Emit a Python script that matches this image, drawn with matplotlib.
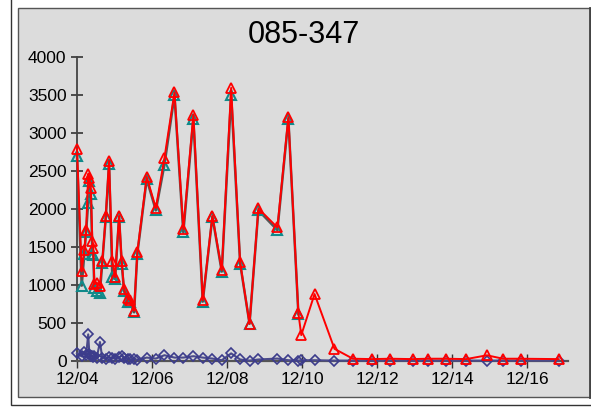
import matplotlib
matplotlib.use("Agg")
import matplotlib.pyplot as plt
import matplotlib.dates as mdates
from matplotlib.patches import Rectangle
from matplotlib.lines import Line2D
import pandas as pd

plt.rcParams['font.family'] = ['Liberation Sans', 'DejaVu Sans']

title = "085-347"

times = [
    "2007-12-04 00:00", "2007-12-04 03:00", "2007-12-04 04:40", "2007-12-04 05:50",
    "2007-12-04 07:10", "2007-12-04 07:55", "2007-12-04 08:50", "2007-12-04 09:50",
    "2007-12-04 10:25", "2007-12-04 11:05", "2007-12-04 12:35", "2007-12-04 14:40",
    "2007-12-04 16:10", "2007-12-04 18:25", "2007-12-04 20:30", "2007-12-04 22:35",
    "2007-12-05 00:20", "2007-12-05 02:55", "2007-12-05 04:35", "2007-12-05 06:05",
    "2007-12-05 08:25", "2007-12-05 09:55", "2007-12-05 12:30", "2007-12-05 14:35",
    "2007-12-05 20:35", "2007-12-06 02:25", "2007-12-06 07:55", "2007-12-06 14:20",
    "2007-12-06 20:00", "2007-12-07 02:25", "2007-12-07 08:25", "2007-12-07 14:35",
    "2007-12-07 20:35", "2007-12-08 02:35", "2007-12-08 08:20", "2007-12-08 14:20",
    "2007-12-08 20:00", "2007-12-09 08:10", "2007-12-09 15:10", "2007-12-09 21:35",
    "2007-12-09 23:25", "2007-12-10 07:55", "2007-12-10 20:40", "2007-12-11 08:25",
    "2007-12-11 20:35", "2007-12-12 08:20", "2007-12-12 22:35", "2007-12-13 08:25",
    "2007-12-13 20:10", "2007-12-14 08:50", "2007-12-14 22:10", "2007-12-15 08:25",
    "2007-12-15 20:00", "2007-12-16 20:00",
]

red_values = [
    2790, 1180, 1460, 1720, 2460, 2410, 2270, 1580, 1490, 1010, 1030, 990,
    1310, 1910, 2630, 1320, 1100, 1910, 1320, 940, 830, 800, 660, 1430,
    2420, 2010, 2670, 3530, 1730, 3240, 800, 1910, 1195, 3590, 1295, 490,
    2005, 1755, 3205, 630, 340, 880, 160, 30, 25, 30, 25, 30,
    30, 25, 75, 30, 30, 25,
]

teal_values = [
    2690, 990, 1400, 1700, 2080, 2370, 2190, 1400, 1390, 960, 920, 900,
    1290, 1890, 2590, 1100, 1080, 1890, 1280, 920, 770, 770, 640, 1410,
    2390, 1980, 2580, 3490, 1690, 3180, 780, 1895, 1175, 3490, 1280, 490,
    1980, 1720, 3180, 615,
]

navy_values = [
    100, 60, 120, 80, 350, 90, 60, 70, 50, 60, 40, 250,
    40, 30, 50, 40, 30, 50, 70, 40, 30, 20, 30, 15,
    45, 32, 76, 45, 45, 63, 45, 32, 10, 100, 20, 5,
    20, 32, 10, 5, 10, 10, 5, 5, 5, 5, 5, 5,
    5, 5, 5, 5, 5, 5,
]

yticks = [0, 500, 1000, 1500, 2000, 2500, 3000, 3500, 4000]
xtick_days = [4, 6, 8, 10, 12, 14, 16]

t = pd.to_datetime(times)

W, H = 591, 409
fig = plt.figure(figsize=(W / 100, H / 100), dpi=100)
fig.patch.set_facecolor('white')

# outer frame
fig.patches.append(Rectangle((11 / W, (H - 405) / H), (W - 11 + 5) / W, 405 / H + 0.01,
                             transform=fig.transFigure, facecolor='white',
                             edgecolor='#333333', lw=1.0, zorder=0))
# inner gray panel
fig.patches.append(Rectangle((18 / W, (H - 397) / H), (590 - 18) / W, (397 - 8) / H,
                             transform=fig.transFigure, facecolor='#dcdcdc',
                             edgecolor='#555555', lw=1.0, zorder=1))
fig.lines.append(Line2D([590 / W, 590 / W], [(H - 397) / H, (H - 8) / H],
                        transform=fig.transFigure, color='#444444', lw=2.0, zorder=2))

ax = fig.add_axes([77 / W, (H - 361) / H, (568 - 77) / W, (361 - 56.7) / H])
ax.set_zorder(5)
ax.set_facecolor('none')

ax.plot(t, navy_values, color='#4a4a8a', lw=1.5, marker='D', markersize=5.5,
        markerfacecolor='none', markeredgecolor='#3c3c8c', markeredgewidth=1.2, zorder=3,
        clip_on=False)
ax.plot(t[:len(teal_values)], teal_values, color='#555555', lw=1.8, marker='^', markersize=7,
        markerfacecolor='none', markeredgecolor='#108a8a', markeredgewidth=1.5, zorder=4,
        clip_on=False)
ax.plot(t, red_values, color='#ff0000', lw=1.4, marker='^', markersize=7,
        markerfacecolor='none', markeredgecolor='#ff0000', markeredgewidth=1.3, zorder=5,
        clip_on=False)

ax.set_ylim(0, 4000)
ax.set_yticks(yticks)
ax.set_xlim(pd.Timestamp("2007-12-04 00:00"), pd.Timestamp("2007-12-17 02:00"))
ax.xaxis.set_major_locator(mdates.DayLocator(bymonthday=xtick_days))
ax.xaxis.set_major_formatter(mdates.DateFormatter('%m/%d'))

for s in ['top', 'right']:
    ax.spines[s].set_visible(False)
ax.spines['left'].set_color('#444444')
ax.spines['bottom'].set_color('#555555')
ax.spines['left'].set_linewidth(1.3)
ax.spines['bottom'].set_linewidth(1.6)
ax.tick_params(axis='y', direction='inout', length=9, width=1.2, color='#333333',
               labelsize=12.5, pad=3)
ax.tick_params(axis='x', direction='inout', length=10, width=1.0, color='#333333',
               labelsize=12.5, pad=3)

fig.text(304 / W, (H - 35) / H, title, ha='center', va='center', fontsize=22, color='black')

fig.savefig('out.png', dpi=100, facecolor='white')
